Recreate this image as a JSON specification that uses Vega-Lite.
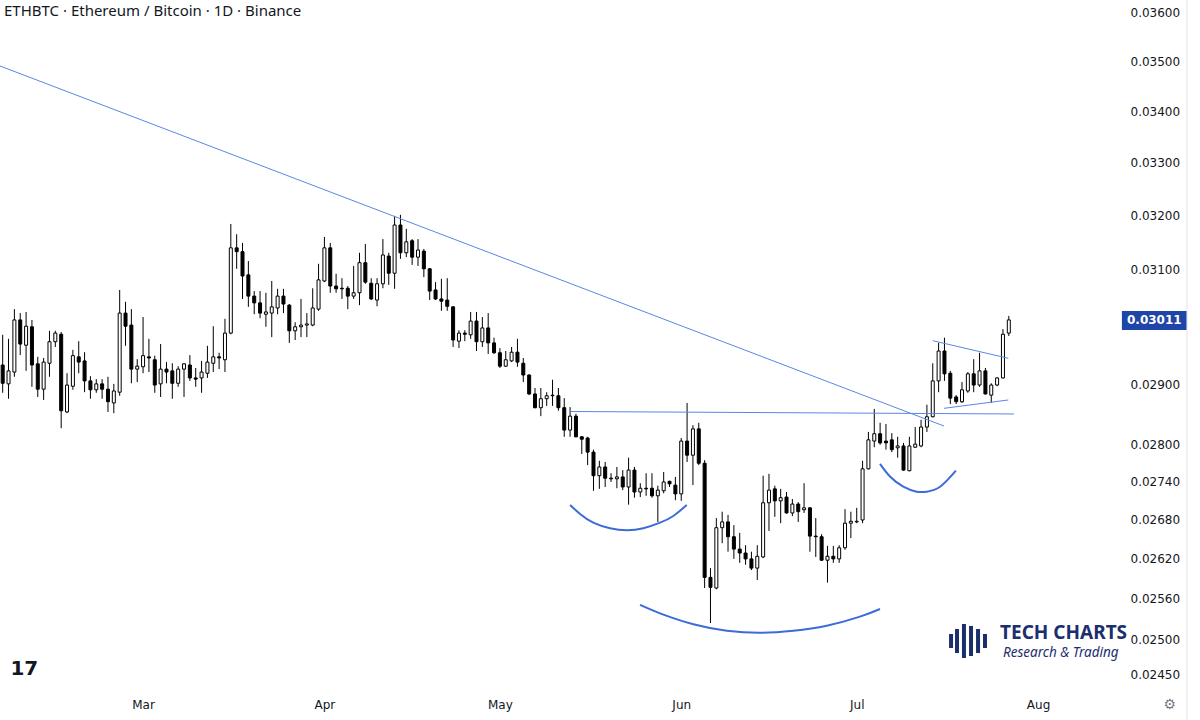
{
 "$schema": "https://vega.github.io/schema/vega-lite/v6.json",
 "width": 1118, "height": 690,
 "autosize": {"type": "none"},
 "padding": {"left": 0, "top": 0, "right": 82, "bottom": 30},
 "background": "#ffffff",
 "config": {"view": {"stroke": null}},
 "title": {"text": "ETHBTC · Ethereum / Bitcoin · 1D · Binance", "anchor": "start", "frame": "group", "offset": -19, "dx": 4, "font": "Noto Sans", "fontSize": 15, "fontWeight": "normal", "color": "#131722"},
 "datasets": {
  "candles": [
{"d":"2023-02-05","o":0.02933,"h":0.02985,"l":0.02886,"c":0.02902},
{"d":"2023-02-06","o":0.02901,"h":0.02978,"l":0.02876,"c":0.02923},
{"d":"2023-02-07","o":0.02921,"h":0.03030,"l":0.02913,"c":0.03011},
{"d":"2023-02-08","o":0.03011,"h":0.03023,"l":0.02950,"c":0.02969},
{"d":"2023-02-09","o":0.02967,"h":0.03025,"l":0.02923,"c":0.03000},
{"d":"2023-02-10","o":0.02999,"h":0.03011,"l":0.02896,"c":0.02933},
{"d":"2023-02-11","o":0.02935,"h":0.02947,"l":0.02879,"c":0.02892},
{"d":"2023-02-12","o":0.02892,"h":0.02945,"l":0.02874,"c":0.02938},
{"d":"2023-02-13","o":0.02936,"h":0.02992,"l":0.02913,"c":0.02973},
{"d":"2023-02-14","o":0.02973,"h":0.02992,"l":0.02964,"c":0.02988},
{"d":"2023-02-15","o":0.02986,"h":0.02990,"l":0.02827,"c":0.02856},
{"d":"2023-02-16","o":0.02854,"h":0.02919,"l":0.02852,"c":0.02899},
{"d":"2023-02-17","o":0.02897,"h":0.02959,"l":0.02891,"c":0.02949},
{"d":"2023-02-18","o":0.02947,"h":0.02974,"l":0.02919,"c":0.02938},
{"d":"2023-02-19","o":0.02940,"h":0.02955,"l":0.02887,"c":0.02906},
{"d":"2023-02-20","o":0.02906,"h":0.02914,"l":0.02876,"c":0.02891},
{"d":"2023-02-21","o":0.02891,"h":0.02909,"l":0.02886,"c":0.02901},
{"d":"2023-02-22","o":0.02901,"h":0.02909,"l":0.02876,"c":0.02892},
{"d":"2023-02-23","o":0.02892,"h":0.02913,"l":0.02854,"c":0.02871},
{"d":"2023-02-24","o":0.02869,"h":0.02901,"l":0.02852,"c":0.02889},
{"d":"2023-02-25","o":0.02887,"h":0.03064,"l":0.02881,"c":0.03023},
{"d":"2023-02-26","o":0.03023,"h":0.03043,"l":0.02966,"c":0.03000},
{"d":"2023-02-27","o":0.03002,"h":0.03030,"l":0.02902,"c":0.02926},
{"d":"2023-02-28","o":0.02926,"h":0.02943,"l":0.02904,"c":0.02931},
{"d":"2023-03-01","o":0.02930,"h":0.03016,"l":0.02919,"c":0.02949},
{"d":"2023-03-02","o":0.02947,"h":0.02978,"l":0.02921,"c":0.02945},
{"d":"2023-03-03","o":0.02942,"h":0.02949,"l":0.02886,"c":0.02899},
{"d":"2023-03-04","o":0.02901,"h":0.02969,"l":0.02879,"c":0.02926},
{"d":"2023-03-05","o":0.02926,"h":0.02938,"l":0.02902,"c":0.02921},
{"d":"2023-03-06","o":0.02923,"h":0.02936,"l":0.02876,"c":0.02902},
{"d":"2023-03-07","o":0.02902,"h":0.02931,"l":0.02896,"c":0.02926},
{"d":"2023-03-08","o":0.02926,"h":0.02936,"l":0.02879,"c":0.02935},
{"d":"2023-03-09","o":0.02933,"h":0.02950,"l":0.02906,"c":0.02911},
{"d":"2023-03-10","o":0.02911,"h":0.02928,"l":0.02896,"c":0.02909},
{"d":"2023-03-11","o":0.02911,"h":0.02940,"l":0.02886,"c":0.02921},
{"d":"2023-03-12","o":0.02919,"h":0.02966,"l":0.02911,"c":0.02938},
{"d":"2023-03-13","o":0.02936,"h":0.03000,"l":0.02921,"c":0.02947},
{"d":"2023-03-14","o":0.02947,"h":0.02954,"l":0.02926,"c":0.02945},
{"d":"2023-03-15","o":0.02942,"h":0.03013,"l":0.02921,"c":0.02988},
{"d":"2023-03-16","o":0.02988,"h":0.03184,"l":0.02986,"c":0.03140},
{"d":"2023-03-17","o":0.03140,"h":0.03165,"l":0.03102,"c":0.03133},
{"d":"2023-03-18","o":0.03133,"h":0.03149,"l":0.03048,"c":0.03089},
{"d":"2023-03-19","o":0.03091,"h":0.03116,"l":0.03034,"c":0.03053},
{"d":"2023-03-20","o":0.03053,"h":0.03062,"l":0.03021,"c":0.03041},
{"d":"2023-03-21","o":0.03041,"h":0.03062,"l":0.03014,"c":0.03023},
{"d":"2023-03-22","o":0.03021,"h":0.03059,"l":0.02999,"c":0.03025},
{"d":"2023-03-23","o":0.03023,"h":0.03080,"l":0.02981,"c":0.03034},
{"d":"2023-03-24","o":0.03032,"h":0.03066,"l":0.03021,"c":0.03053},
{"d":"2023-03-25","o":0.03053,"h":0.03066,"l":0.03023,"c":0.03039},
{"d":"2023-03-26","o":0.03037,"h":0.03039,"l":0.02971,"c":0.02992},
{"d":"2023-03-27","o":0.02992,"h":0.03007,"l":0.02976,"c":0.02999},
{"d":"2023-03-28","o":0.02999,"h":0.03048,"l":0.02981,"c":0.03002},
{"d":"2023-03-29","o":0.03002,"h":0.03023,"l":0.02981,"c":0.03004},
{"d":"2023-03-30","o":0.03002,"h":0.03067,"l":0.03000,"c":0.03032},
{"d":"2023-03-31","o":0.03030,"h":0.03111,"l":0.03027,"c":0.03082},
{"d":"2023-04-01","o":0.03080,"h":0.03160,"l":0.03078,"c":0.03140},
{"d":"2023-04-02","o":0.03140,"h":0.03149,"l":0.03059,"c":0.03071},
{"d":"2023-04-03","o":0.03071,"h":0.03093,"l":0.03059,"c":0.03066},
{"d":"2023-04-04","o":0.03067,"h":0.03085,"l":0.03048,"c":0.03066},
{"d":"2023-04-05","o":0.03067,"h":0.03071,"l":0.03030,"c":0.03053},
{"d":"2023-04-06","o":0.03053,"h":0.03107,"l":0.03048,"c":0.03059},
{"d":"2023-04-07","o":0.03059,"h":0.03131,"l":0.03037,"c":0.03113},
{"d":"2023-04-08","o":0.03113,"h":0.03147,"l":0.03075,"c":0.03078},
{"d":"2023-04-09","o":0.03076,"h":0.03085,"l":0.03046,"c":0.03048},
{"d":"2023-04-10","o":0.03046,"h":0.03085,"l":0.03035,"c":0.03075},
{"d":"2023-04-11","o":0.03075,"h":0.03156,"l":0.03067,"c":0.03127},
{"d":"2023-04-12","o":0.03125,"h":0.03131,"l":0.03073,"c":0.03094},
{"d":"2023-04-13","o":0.03094,"h":0.03199,"l":0.03066,"c":0.03182},
{"d":"2023-04-14","o":0.03182,"h":0.03201,"l":0.03120,"c":0.03131},
{"d":"2023-04-15","o":0.03131,"h":0.03175,"l":0.03123,"c":0.03151},
{"d":"2023-04-16","o":0.03153,"h":0.03156,"l":0.03109,"c":0.03123},
{"d":"2023-04-17","o":0.03123,"h":0.03156,"l":0.03107,"c":0.03136},
{"d":"2023-04-18","o":0.03134,"h":0.03138,"l":0.03087,"c":0.03102},
{"d":"2023-04-19","o":0.03102,"h":0.03103,"l":0.03046,"c":0.03062},
{"d":"2023-04-20","o":0.03064,"h":0.03078,"l":0.03046,"c":0.03048},
{"d":"2023-04-21","o":0.03048,"h":0.03084,"l":0.03027,"c":0.03044},
{"d":"2023-04-22","o":0.03046,"h":0.03085,"l":0.03027,"c":0.03035},
{"d":"2023-04-23","o":0.03034,"h":0.03035,"l":0.02964,"c":0.02976},
{"d":"2023-04-24","o":0.02974,"h":0.02993,"l":0.02962,"c":0.02988},
{"d":"2023-04-25","o":0.02988,"h":0.02993,"l":0.02974,"c":0.02986},
{"d":"2023-04-26","o":0.02985,"h":0.03025,"l":0.02978,"c":0.03009},
{"d":"2023-04-27","o":0.03009,"h":0.03025,"l":0.02957,"c":0.02973},
{"d":"2023-04-28","o":0.02973,"h":0.03016,"l":0.02964,"c":0.02997},
{"d":"2023-04-29","o":0.02997,"h":0.03023,"l":0.02952,"c":0.02971},
{"d":"2023-04-30","o":0.02971,"h":0.02980,"l":0.02952,"c":0.02954},
{"d":"2023-05-01","o":0.02954,"h":0.02962,"l":0.02928,"c":0.02931},
{"d":"2023-05-02","o":0.02931,"h":0.02957,"l":0.02930,"c":0.02942},
{"d":"2023-05-03","o":0.02940,"h":0.02964,"l":0.02938,"c":0.02955},
{"d":"2023-05-04","o":0.02955,"h":0.02978,"l":0.02930,"c":0.02938},
{"d":"2023-05-05","o":0.02936,"h":0.02945,"l":0.02904,"c":0.02916},
{"d":"2023-05-06","o":0.02916,"h":0.02917,"l":0.02882,"c":0.02884},
{"d":"2023-05-07","o":0.02884,"h":0.02894,"l":0.02860,"c":0.02861},
{"d":"2023-05-08","o":0.02861,"h":0.02894,"l":0.02847,"c":0.02876},
{"d":"2023-05-09","o":0.02876,"h":0.02887,"l":0.02864,"c":0.02881},
{"d":"2023-05-10","o":0.02881,"h":0.02908,"l":0.02864,"c":0.02882},
{"d":"2023-05-11","o":0.02881,"h":0.02894,"l":0.02856,"c":0.02861},
{"d":"2023-05-12","o":0.02861,"h":0.02877,"l":0.02813,"c":0.02824},
{"d":"2023-05-13","o":0.02824,"h":0.02862,"l":0.02813,"c":0.02847},
{"d":"2023-05-14","o":0.02847,"h":0.02851,"l":0.02812,"c":0.02813},
{"d":"2023-05-15","o":0.02813,"h":0.02814,"l":0.02785,"c":0.02809},
{"d":"2023-05-16","o":0.02811,"h":0.02813,"l":0.02767,"c":0.02788},
{"d":"2023-05-17","o":0.02788,"h":0.02792,"l":0.02726,"c":0.02750},
{"d":"2023-05-18","o":0.02750,"h":0.02774,"l":0.02729,"c":0.02764},
{"d":"2023-05-19","o":0.02764,"h":0.02772,"l":0.02732,"c":0.02746},
{"d":"2023-05-20","o":0.02746,"h":0.02754,"l":0.02740,"c":0.02745},
{"d":"2023-05-21","o":0.02745,"h":0.02764,"l":0.02730,"c":0.02748},
{"d":"2023-05-22","o":0.02748,"h":0.02759,"l":0.02727,"c":0.02732},
{"d":"2023-05-23","o":0.02732,"h":0.02779,"l":0.02704,"c":0.02759},
{"d":"2023-05-24","o":0.02759,"h":0.02764,"l":0.02715,"c":0.02724},
{"d":"2023-05-25","o":0.02724,"h":0.02738,"l":0.02716,"c":0.02730},
{"d":"2023-05-26","o":0.02730,"h":0.02754,"l":0.02718,"c":0.02729},
{"d":"2023-05-27","o":0.02730,"h":0.02754,"l":0.02715,"c":0.02718},
{"d":"2023-05-28","o":0.02718,"h":0.02734,"l":0.02677,"c":0.02727},
{"d":"2023-05-29","o":0.02726,"h":0.02756,"l":0.02722,"c":0.02740},
{"d":"2023-05-30","o":0.02741,"h":0.02742,"l":0.02732,"c":0.02737},
{"d":"2023-05-31","o":0.02735,"h":0.02748,"l":0.02711,"c":0.02721},
{"d":"2023-06-01","o":0.02721,"h":0.02811,"l":0.02710,"c":0.02806},
{"d":"2023-06-02","o":0.02806,"h":0.02869,"l":0.02772,"c":0.02783},
{"d":"2023-06-03","o":0.02783,"h":0.02832,"l":0.02735,"c":0.02826},
{"d":"2023-06-04","o":0.02826,"h":0.02836,"l":0.02767,"c":0.02770},
{"d":"2023-06-05","o":0.02770,"h":0.02775,"l":0.02576,"c":0.02592},
{"d":"2023-06-06","o":0.02592,"h":0.02606,"l":0.02524,"c":0.02577},
{"d":"2023-06-07","o":0.02576,"h":0.02683,"l":0.02574,"c":0.02668},
{"d":"2023-06-08","o":0.02668,"h":0.02693,"l":0.02644,"c":0.02677},
{"d":"2023-06-09","o":0.02677,"h":0.02688,"l":0.02631,"c":0.02654},
{"d":"2023-06-10","o":0.02654,"h":0.02672,"l":0.02620,"c":0.02635},
{"d":"2023-06-11","o":0.02635,"h":0.02660,"l":0.02614,"c":0.02629},
{"d":"2023-06-12","o":0.02629,"h":0.02641,"l":0.02611,"c":0.02620},
{"d":"2023-06-13","o":0.02620,"h":0.02631,"l":0.02603,"c":0.02606},
{"d":"2023-06-14","o":0.02606,"h":0.02641,"l":0.02588,"c":0.02624},
{"d":"2023-06-15","o":0.02623,"h":0.02750,"l":0.02621,"c":0.02707},
{"d":"2023-06-16","o":0.02707,"h":0.02753,"l":0.02663,"c":0.02727},
{"d":"2023-06-17","o":0.02729,"h":0.02734,"l":0.02685,"c":0.02710},
{"d":"2023-06-18","o":0.02710,"h":0.02729,"l":0.02675,"c":0.02715},
{"d":"2023-06-19","o":0.02716,"h":0.02724,"l":0.02690,"c":0.02691},
{"d":"2023-06-20","o":0.02691,"h":0.02713,"l":0.02686,"c":0.02705},
{"d":"2023-06-21","o":0.02705,"h":0.02708,"l":0.02677,"c":0.02693},
{"d":"2023-06-22","o":0.02696,"h":0.02738,"l":0.02691,"c":0.02699},
{"d":"2023-06-23","o":0.02699,"h":0.02700,"l":0.02631,"c":0.02655},
{"d":"2023-06-24","o":0.02655,"h":0.02683,"l":0.02623,"c":0.02654},
{"d":"2023-06-25","o":0.02654,"h":0.02658,"l":0.02617,"c":0.02618},
{"d":"2023-06-26","o":0.02618,"h":0.02640,"l":0.02584,"c":0.02624},
{"d":"2023-06-27","o":0.02624,"h":0.02640,"l":0.02614,"c":0.02620},
{"d":"2023-06-28","o":0.02620,"h":0.02641,"l":0.02614,"c":0.02637},
{"d":"2023-06-29","o":0.02637,"h":0.02697,"l":0.02634,"c":0.02675},
{"d":"2023-06-30","o":0.02675,"h":0.02693,"l":0.02652,"c":0.02678},
{"d":"2023-07-01","o":0.02677,"h":0.02699,"l":0.02675,"c":0.02678},
{"d":"2023-07-02","o":0.02680,"h":0.02774,"l":0.02675,"c":0.02761},
{"d":"2023-07-03","o":0.02761,"h":0.02821,"l":0.02760,"c":0.02808},
{"d":"2023-07-04","o":0.02806,"h":0.02859,"l":0.02796,"c":0.02818},
{"d":"2023-07-05","o":0.02818,"h":0.02836,"l":0.02800,"c":0.02803},
{"d":"2023-07-06","o":0.02806,"h":0.02834,"l":0.02792,"c":0.02803},
{"d":"2023-07-07","o":0.02808,"h":0.02819,"l":0.02788,"c":0.02792},
{"d":"2023-07-08","o":0.02795,"h":0.02813,"l":0.02779,"c":0.02798},
{"d":"2023-07-09","o":0.02798,"h":0.02803,"l":0.02758,"c":0.02759},
{"d":"2023-07-10","o":0.02758,"h":0.02813,"l":0.02757,"c":0.02798},
{"d":"2023-07-11","o":0.02796,"h":0.02829,"l":0.02795,"c":0.02801},
{"d":"2023-07-12","o":0.02798,"h":0.02841,"l":0.02796,"c":0.02829},
{"d":"2023-07-13","o":0.02829,"h":0.02866,"l":0.02821,"c":0.02846},
{"d":"2023-07-14","o":0.02846,"h":0.02936,"l":0.02845,"c":0.02906},
{"d":"2023-07-15","o":0.02906,"h":0.02971,"l":0.02887,"c":0.02957},
{"d":"2023-07-16","o":0.02957,"h":0.02980,"l":0.02906,"c":0.02918},
{"d":"2023-07-17","o":0.02919,"h":0.02923,"l":0.02867,"c":0.02877},
{"d":"2023-07-18","o":0.02879,"h":0.02882,"l":0.02867,"c":0.02871},
{"d":"2023-07-19","o":0.02871,"h":0.02904,"l":0.02869,"c":0.02891},
{"d":"2023-07-20","o":0.02889,"h":0.02921,"l":0.02886,"c":0.02918},
{"d":"2023-07-21","o":0.02918,"h":0.02943,"l":0.02887,"c":0.02899},
{"d":"2023-07-22","o":0.02899,"h":0.02954,"l":0.02896,"c":0.02923},
{"d":"2023-07-23","o":0.02923,"h":0.02928,"l":0.02883,"c":0.02884},
{"d":"2023-07-24","o":0.02882,"h":0.02902,"l":0.02869,"c":0.02899},
{"d":"2023-07-25","o":0.02899,"h":0.02912,"l":0.02897,"c":0.02911},
{"d":"2023-07-26","o":0.02911,"h":0.02995,"l":0.02910,"c":0.02986},
{"d":"2023-07-27","o":0.02988,"h":0.03018,"l":0.02983,"c":0.03011}
  ],
  "lines": [
{"g":"desc","d":"2023-02-04T13:00:00Z","p":0.034906},
{"g":"desc","d":"2023-07-15T22:00:00Z","p":0.028307},
{"g":"neck","d":"2023-05-13T00:00:00Z","p":0.028547},
{"g":"neck","d":"2023-07-27T21:00:00Z","p":0.028506},
{"g":"up","d":"2023-07-14T00:00:00Z","p":0.029748},
{"g":"up","d":"2023-07-26T22:00:00Z","p":0.029445},
{"g":"lo","d":"2023-07-15T22:00:00Z","p":0.0286},
{"g":"lo","d":"2023-07-26T22:00:00Z","p":0.028739}
  ],
  "arcs": [
{"g":"a","d":"2023-05-13T00:00:00Z","p":0.027036},
{"g":"a","d":"2023-05-14T17:00:00Z","p":0.026894},
{"g":"a","d":"2023-05-16T23:00:00Z","p":0.026758},
{"g":"a","d":"2023-05-19T20:00:00Z","p":0.026671},
{"g":"a","d":"2023-05-22T16:00:00Z","p":0.02664},
{"g":"a","d":"2023-05-25T12:30:00Z","p":0.026671},
{"g":"a","d":"2023-05-28T09:00:00Z","p":0.026758},
{"g":"a","d":"2023-05-30T15:30:00Z","p":0.026863},
{"g":"a","d":"2023-06-01T22:30:00Z","p":0.027036},
{"g":"b","d":"2023-05-24T23:00:00Z","p":0.025507},
{"g":"b","d":"2023-05-28T09:00:00Z","p":0.025383},
{"g":"b","d":"2023-06-03T02:00:00Z","p":0.025222},
{"g":"b","d":"2023-06-08T19:00:00Z","p":0.025128},
{"g":"b","d":"2023-06-14T11:00:00Z","p":0.025098},
{"g":"b","d":"2023-06-20T04:00:00Z","p":0.025128},
{"g":"b","d":"2023-06-25T21:00:00Z","p":0.025201},
{"g":"b","d":"2023-07-01T13:30:00Z","p":0.025334},
{"g":"b","d":"2023-07-04T23:30:00Z","p":0.025447},
{"g":"c","d":"2023-07-04T23:30:00Z","p":0.027689},
{"g":"c","d":"2023-07-06T16:30:00Z","p":0.027486},
{"g":"c","d":"2023-07-08T23:00:00Z","p":0.027324},
{"g":"c","d":"2023-07-11T06:00:00Z","p":0.027245},
{"g":"c","d":"2023-07-12T23:00:00Z","p":0.027245},
{"g":"c","d":"2023-07-15T06:00:00Z","p":0.027324},
{"g":"c","d":"2023-07-17T23:00:00Z","p":0.027581}
  ],
  "icon": [
{"d":"2023-07-17T03:00:00Z","p":0.025079,"p2":0.024876},
{"d":"2023-07-18T03:30:00Z","p":0.025152,"p2":0.024803},
{"d":"2023-07-19T08:00:00Z","p":0.025226,"p2":0.024731},
{"d":"2023-07-20T13:00:00Z","p":0.025197,"p2":0.02476},
{"d":"2023-07-21T17:45:00Z","p":0.025152,"p2":0.024803},
{"d":"2023-07-22T22:15:00Z","p":0.025079,"p2":0.024876}
  ]
 },
 "encoding": {
  "x": {"field": "d", "type": "temporal", "title": null,
   "scale": {"type": "utc", "padding": 0, "domain": [{"year": 2023, "month": 2, "date": 4, "hours": 13, "utc": true}, {"year": 2023, "month": 8, "date": 14, "hours": 16, "utc": true}]},
   "axis": {"orient": "bottom", "format": "%b", "values": [{"year": 2023, "month": 3, "date": 1, "utc": true}, {"year": 2023, "month": 4, "date": 1, "utc": true}, {"year": 2023, "month": 5, "date": 1, "utc": true}, {"year": 2023, "month": 6, "date": 1, "utc": true}, {"year": 2023, "month": 7, "date": 1, "utc": true}, {"year": 2023, "month": 8, "date": 1, "utc": true}], "grid": false, "domain": false, "ticks": false, "labelPadding": 9, "labelFont": "DejaVu Sans", "labelFontSize": 12, "labelColor": "#131722", "labelOverlap": false}},
  "y": {"field": "p", "type": "quantitative", "title": null,
   "scale": {"type": "log", "domain": [0.024275, 0.036273], "nice": false, "zero": false, "padding": 0},
   "axis": {"orient": "right", "values": [0.0245, 0.025, 0.0256, 0.0262, 0.0268, 0.0274, 0.028, 0.029, 0.031, 0.032, 0.033, 0.034, 0.035, 0.036], "format": ".5f", "grid": false, "domain": false, "ticks": false, "labelPadding": 12, "labelFont": "DejaVu Sans", "labelFontSize": 12, "labelColor": "#131722", "labelAlign": "left", "labelBaseline": "middle", "labelOverlap": false}}
 },
 "layer": [
  {"data": {"name": "candles"}, "mark": {"type": "rule", "color": "#000000", "strokeWidth": 1},
   "encoding": {"y": {"field": "l", "type": "quantitative", "title": null,
     "scale": {"type": "log", "domain": [0.024275, 0.036273], "nice": false, "zero": false, "padding": 0},
     "axis": {"orient": "right", "values": [0.0245, 0.025, 0.0256, 0.0262, 0.0268, 0.0274, 0.028, 0.029, 0.031, 0.032, 0.033, 0.034, 0.035, 0.036], "format": ".5f", "grid": false, "domain": false, "ticks": false, "labelPadding": 12, "labelFont": "DejaVu Sans", "labelFontSize": 12, "labelColor": "#131722", "labelAlign": "left", "labelBaseline": "middle", "labelOverlap": false}},
    "y2": {"field": "h"}}},
  {"data": {"name": "candles"}, "mark": {"type": "bar", "width": 3, "stroke": "#000000", "strokeWidth": 1},
   "encoding": {"y": {"field": "o", "type": "quantitative", "title": null,
     "scale": {"type": "log", "domain": [0.024275, 0.036273], "nice": false, "zero": false, "padding": 0},
     "axis": {"orient": "right", "values": [0.0245, 0.025, 0.0256, 0.0262, 0.0268, 0.0274, 0.028, 0.029, 0.031, 0.032, 0.033, 0.034, 0.035, 0.036], "format": ".5f", "grid": false, "domain": false, "ticks": false, "labelPadding": 12, "labelFont": "DejaVu Sans", "labelFontSize": 12, "labelColor": "#131722", "labelAlign": "left", "labelBaseline": "middle", "labelOverlap": false}},
    "y2": {"field": "c"},
    "fill": {"condition": {"test": "datum.c >= datum.o", "value": "#ffffff"}, "value": "#000000"}}},
  {"data": {"name": "lines"}, "mark": {"type": "line", "color": "#5b86e5", "strokeWidth": 1},
   "encoding": {"detail": {"field": "g"}}},
  {"data": {"name": "arcs"}, "mark": {"type": "line", "color": "#3d6bd9", "strokeWidth": 2, "interpolate": "natural"},
   "encoding": {"detail": {"field": "g"}}},
  {"data": {"name": "icon"}, "mark": {"type": "rule", "color": "#1b2e6e", "strokeWidth": 4},
   "encoding": {"y2": {"field": "p2"}}},
  {"data": {"values": [{"t": "TECH CHARTS", "d": "2023-07-25T12:00:00Z", "p": 0.025095}]},
   "mark": {"type": "text", "align": "left", "baseline": "middle", "font": "Noto Sans", "fontSize": 19, "fontWeight": "bold", "color": "#1b2e6e"},
   "encoding": {"text": {"field": "t"}}},
  {"data": {"values": [{"t": "Research & Trading", "d": "2023-07-26T00:00:00Z", "p": 0.024805}]},
   "mark": {"type": "text", "align": "left", "baseline": "middle", "font": "Noto Sans", "fontSize": 13.5, "fontStyle": "italic", "color": "#1b2e6e"},
   "encoding": {"text": {"field": "t"}}},
  {"data": {"values": [{"t": "17", "d": "2023-02-08T17:00:00Z", "p": 0.024573}]},
   "mark": {"type": "text", "align": "center", "baseline": "middle", "font": "DejaVu Sans", "fontSize": 20, "fontWeight": "bold", "color": "#131722"},
   "encoding": {"text": {"field": "t"}}},
  {"data": {"values": [{"d": "2023-08-15T08:00:00Z", "d2": "2023-08-26T11:00:00Z", "p": 0.030267, "p2": 0.029934}]},
   "mark": {"type": "rect", "color": "#1f45a8"},
   "encoding": {"x2": {"field": "d2"}, "y2": {"field": "p2"}}},
  {"data": {"values": [{"t": "0.03011", "d": "2023-08-20T21:00:00Z", "p": 0.03011}]},
   "mark": {"type": "text", "align": "center", "baseline": "middle", "font": "DejaVu Sans", "fontSize": 12, "fontWeight": "bold", "color": "#ffffff"},
   "encoding": {"text": {"field": "t"}}},
  {"data": {"values": [{"t": "⚙", "d": "2023-08-23T12:00:00Z", "p": 0.024064}]},
   "mark": {"type": "text", "align": "center", "baseline": "middle", "font": "DejaVu Sans", "fontSize": 14, "color": "#787b86"},
   "encoding": {"text": {"field": "t"}}},
  {"data": {"values": [{"d": "2023-08-26T11:00:00Z", "p": 0.036273, "p2": 0.023855}]},
   "mark": {"type": "rule", "color": "#e0e3eb", "strokeWidth": 1},
   "encoding": {"y2": {"field": "p2"}}}
 ]
}
